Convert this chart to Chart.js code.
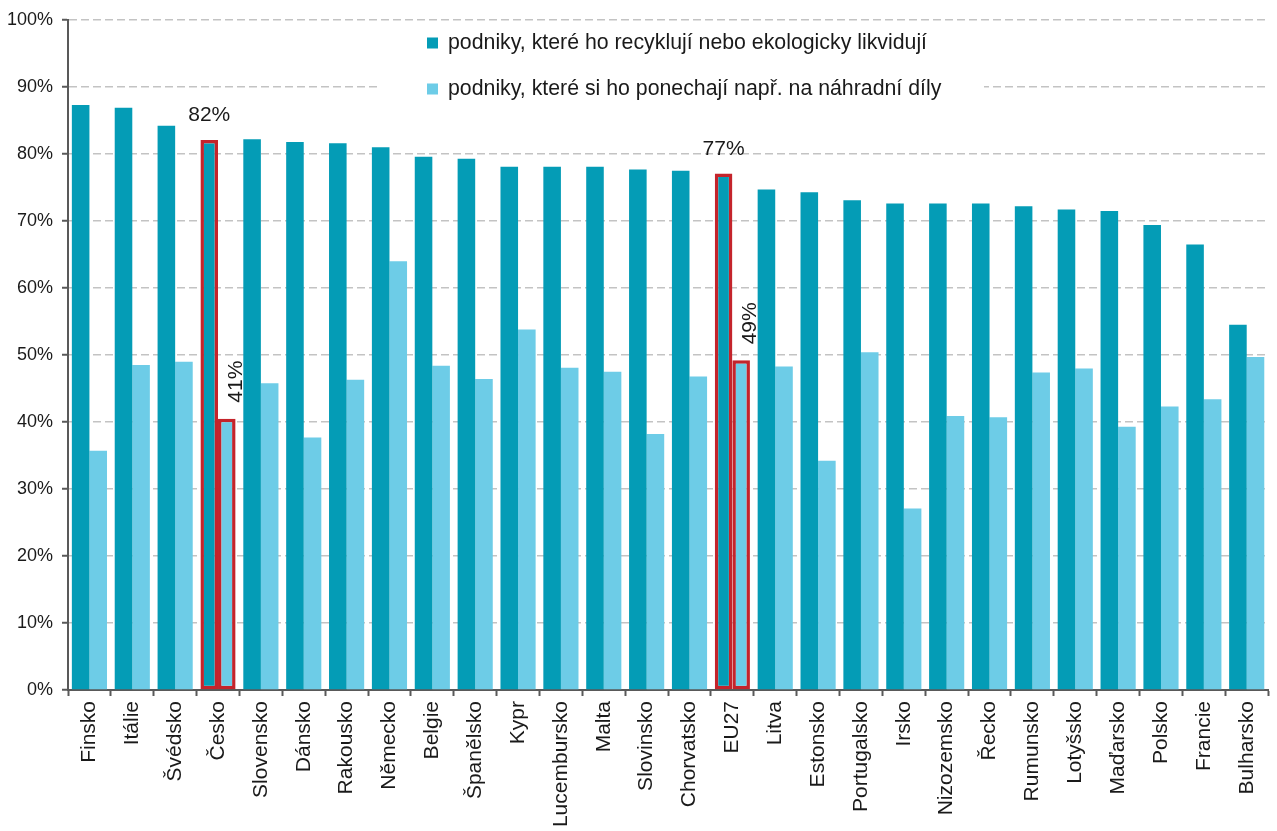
<!DOCTYPE html>
<html>
<head>
<meta charset="utf-8">
<script src="https://cdn.jsdelivr.net/npm/chart.js@4"></script>
<style>
  html, body { margin: 0; padding: 0; background: #ffffff; }
  #wrap { width: 1277px; height: 831px; position: relative; }
</style>
</head>
<body>
<div id="wrap"><canvas id="c" width="1277" height="831"></canvas></div>
<script>
const categories = ["Finsko","Itálie","Švédsko","Česko","Slovensko","Dánsko","Rakousko","Německo","Belgie","Španělsko","Kypr","Lucembursko","Malta","Slovinsko","Chorvatsko","EU27","Litva","Estonsko","Portugalsko","Irsko","Nizozemsko","Řecko","Rumunsko","Lotyšsko","Maďarsko","Polsko","Francie","Bulharsko"];
const recycle = [87.3,86.9,84.2,82.1,82.2,81.8,81.6,81.0,79.6,79.3,78.1,78.1,78.1,77.7,77.5,77.1,74.7,74.3,73.1,72.6,72.6,72.6,72.2,71.7,71.5,69.4,66.5,54.5];
const keep = [35.7,48.5,49.0,40.5,45.8,37.7,46.3,64.0,48.4,46.4,53.8,48.1,47.5,38.2,46.8,49.2,48.3,34.2,50.4,27.1,40.9,40.7,47.4,48.0,39.3,42.3,43.4,49.7];
const seriesNames = ["podniky, které ho recyklují nebo ekologicky likvidují","podniky, které si ho ponechají např. na náhradní díly"];
const yTicks = [0,10,20,30,40,50,60,70,80,90,100];
const highlighted = ["Česko","EU27"];

const COLORS = ["#049CB6", "#6DCCE7"];
const RED = "#C4242B";
const FONT = "'Liberation Sans', Arial, sans-serif";

const isHi = (i) => highlighted.includes(categories[i]);

const legendPlugin = {
  id: 'insideLegend',
  beforeDatasetsDraw(chart) {
    const ctx = chart.ctx;
    ctx.save();
    ctx.fillStyle = '#ffffff';
    ctx.fillRect(379, 24, 605, 82);
    ctx.font = '21.3px ' + FONT;
    ctx.textBaseline = 'middle';
    ctx.textAlign = 'left';
    const ys = [43, 89];
    chart.data.datasets.forEach((ds, k) => {
      ctx.fillStyle = COLORS[k];
      ctx.fillRect(427, ys[k] - 5.5, 11, 11);
      ctx.fillStyle = '#1a1a1a';
      ctx.fillText(ds.label, 448, ys[k]);
    });
    ctx.restore();
  }
};

const labelPlugin = {
  id: 'hiLabels',
  afterDatasetsDraw(chart) {
    const ctx = chart.ctx;
    ctx.save();
    ctx.fillStyle = '#1a1a1a';
    ctx.font = '21px ' + FONT;
    const m0 = chart.getDatasetMeta(0).data;
    const m1 = chart.getDatasetMeta(1).data;
    categories.forEach((c, i) => {
      if (!isHi(i)) return;
      const b0 = m0[i], b1 = m1[i];
      ctx.textAlign = 'center';
      ctx.textBaseline = 'bottom';
      ctx.fillText(Math.round(recycle[i]) + '%', b0.x, b0.y - 14);
      ctx.save();
      ctx.translate(b1.x + 9, b1.y - 16);
      ctx.rotate(-Math.PI / 2);
      ctx.textAlign = 'left';
      ctx.textBaseline = 'middle';
      ctx.fillText(Math.round(keep[i]) + '%', 0, 0);
      ctx.restore();
    });
    ctx.restore();
  }
};

new Chart(document.getElementById('c'), {
  type: 'bar',
  data: {
    labels: categories,
    datasets: [
      {
        label: seriesNames[0],
        data: recycle,
        backgroundColor: COLORS[0],
        borderColor: (c) => isHi(c.dataIndex) ? RED : COLORS[0],
        borderWidth: (c) => isHi(c.dataIndex) ? 3.5 : 0,
        borderSkipped: false
      },
      {
        label: seriesNames[1],
        data: keep,
        backgroundColor: COLORS[1],
        borderColor: (c) => isHi(c.dataIndex) ? RED : COLORS[1],
        borderWidth: (c) => isHi(c.dataIndex) ? 3.5 : 0,
        borderSkipped: false
      }
    ]
  },
  options: {
    responsive: false,
    animation: false,
    devicePixelRatio: 1,
    layout: { padding: { top: 20, right: 5, left: 0, bottom: 0 } },
    datasets: { bar: { categoryPercentage: 0.82, barPercentage: 1.0 } },
    plugins: {
      legend: { display: false },
      tooltip: { enabled: false },
      title: { display: false }
    },
    scales: {
      x: {
        afterFit(s) { s.height = 141; },
        grid: {
          display: true,
          drawOnChartArea: false,
          drawTicks: true,
          tickLength: 6,
          tickColor: '#595959',
          tickWidth: 2,
          offset: true
        },
        border: { display: true, color: '#595959', width: 2 },
        ticks: {
          autoSkip: false,
          maxRotation: 90,
          minRotation: 90,
          padding: 5,
          color: '#1a1a1a',
          font: { family: FONT, size: 21 }
        }
      },
      y: {
        min: 0,
        max: 100,
        afterFit(s) { s.width = 68; },
        afterBuildTicks(s) { s.ticks = yTicks.map(v => ({ value: v })); },
        grid: {
          color: '#C3C3C3',
          lineWidth: 1.5,
          drawTicks: true,
          tickLength: 6,
          tickColor: '#595959',
          tickWidth: 2,
          tickBorderDash: []
        },
        border: { display: true, color: '#595959', width: 2, dash: [8, 4] },
        ticks: {
          padding: 9,
          color: '#1a1a1a',
          font: { family: FONT, size: 18 },
          callback: (v) => v + '%'
        }
      }
    }
  },
  plugins: [legendPlugin, labelPlugin]
});
</script>
</body>
</html>
